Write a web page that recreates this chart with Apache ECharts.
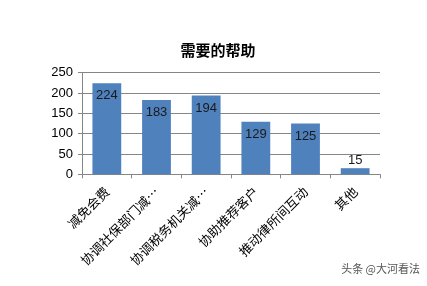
<!DOCTYPE html>
<html><head><meta charset="utf-8">
<script src="https://cdn.jsdelivr.net/npm/echarts@6/dist/echarts.min.js"></script>
<style>html,body{margin:0;padding:0;background:#fff}#c{width:427px;height:286px}</style>
</head><body><div id="c"></div>
<script>
const title = '需要的帮助';
const categories = ['减免会费','协调社保部门减…','协调税务机关减…','协助推荐客户','推动律所间互动','其他'];
const values = [224,183,194,129,125,15];
const yTicks = [0,50,100,150,200,250];
const watermark = '头条 @大河看法';

const chart = echarts.init(document.getElementById('c'));
chart.setOption({
  animation:false,
  title:{text:title,left:213,top:38,textAlign:'center',textStyle:{fontSize:15,fontWeight:'bold',color:'#000',fontFamily:'Noto Sans CJK SC'}},
  graphic:[{type:'text',right:7,top:263,style:{text:watermark,fontSize:11,fill:'#555',fontFamily:'Noto Sans CJK SC'}}],
  grid:{left:82,right:47,top:72.7,bottom:111.7},
  xAxis:{type:'category',data:categories,
    axisLine:{lineStyle:{color:'#868686'}},
    axisTick:{show:true,length:4,lineStyle:{color:'#868686'}},
    axisLabel:{rotate:45,interval:0,fontSize:13,color:'#000',margin:15,fontFamily:'Noto Sans CJK SC'}},
  yAxis:{type:'value',min:yTicks[0],max:yTicks[yTicks.length-1],interval:50,
    axisLine:{show:true,lineStyle:{color:'#868686'}},
    axisTick:{show:true,length:4,lineStyle:{color:'#868686'}},
    splitLine:{lineStyle:{color:'#868686'}},
    axisLabel:{fontSize:13,color:'#000',margin:9,fontFamily:'Liberation Sans'}},
  series:[{type:'bar',barWidth:'58%',
    data:values.map(v=>({value:v,label:{position: v<40?'top':'insideTop', distance: v<40?1:6}})),
    itemStyle:{color:'#4f81bd'},
    label:{show:true,fontSize:13,color:'#1a1a1a',fontFamily:'Liberation Sans'}}]
});
</script></body></html>
